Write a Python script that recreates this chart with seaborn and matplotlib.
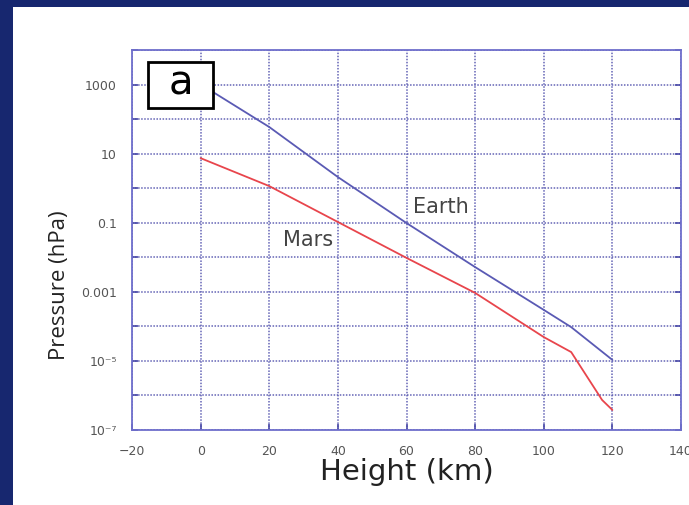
import numpy as np
import pandas as pd
import matplotlib
matplotlib.use("Agg")
import matplotlib.pyplot as plt
from matplotlib import font_manager
from matplotlib.patches import Rectangle
import seaborn as sns

# ---- data ----
earth_height = [0, 20, 40, 60, 80, 100, 108, 120]
earth_pressure = [1013, 59, 2.1, 0.098, 0.0052, 3.0e-4, 9.5e-5, 1.07e-5]
mars_height = [0, 20, 40, 60, 80, 100, 108, 117, 120]
mars_pressure = [7.4, 1.15, 0.105, 0.0096, 9.3e-4, 4.9e-5, 1.8e-5, 7.4e-7, 3.8e-7]

x_ticks = [-20, 0, 20, 40, 60, 80, 100, 120, 140]
x_tick_labels = ["−20", "0", "20", "40", "60", "80", "100", "120", "140"]
y_ticks = [1e-7, 1e-6, 1e-5, 1e-4, 1e-3, 1e-2, 1e-1, 1, 10, 100, 1000, 1e4]
y_tick_labels = ["10⁻⁷", "", "10⁻⁵", "", "0.001", "", "0.1", "", "10", "", "1000", ""]

df = pd.DataFrame({
    "Height": earth_height + mars_height,
    "Pressure": earth_pressure + mars_pressure,
    "Planet": ["Earth"] * len(earth_height) + ["Mars"] * len(mars_height),
})

sns.set_theme(style="white")
plt.rcParams["font.family"] = ["DejaVu Sans"]

names = {f.name for f in font_manager.fontManager.ttflist}
ylab_font = "Liberation Sans Narrow" if "Liberation Sans Narrow" in names else "Open Sans"
ylab_size = 19.5 if ylab_font == "Liberation Sans Narrow" else 16

W, H = 689, 505
fig = plt.figure(figsize=(W / 100, H / 100), dpi=100, facecolor="#17276f")
fig.patches.append(Rectangle((13 / W, 0), 1 - 13 / W, (H - 7) / H,
                             transform=fig.transFigure, facecolor="white",
                             edgecolor="none", zorder=-5))
ax = fig.add_axes([132 / W, 1 - 430 / H, (681 - 132) / W, (430 - 50) / H])
ax.set_zorder(2)
ax.set_facecolor("white")

sns.lineplot(data=df, x="Height", y="Pressure", hue="Planet",
             palette={"Earth": "#5a5ab4", "Mars": "#e8454c"},
             linewidth=1.3, legend=False, ax=ax, sort=False)

ax.set_yscale("log")
ax.set_xlim(-20, 140)
ax.set_ylim(1e-7, 1e4)
ax.set_xticks(x_ticks)
ax.set_xticklabels(x_tick_labels)
ax.set_yticks(y_ticks)
ax.set_yticklabels(y_tick_labels)
ax.minorticks_off()

grid_col = "#5c5cb2"
ax.grid(True, which="major", color=grid_col, linestyle=(0, (1, 1.0)), linewidth=1.1, alpha=0.95)
for s in ax.spines.values():
    s.set_color("#6e6ecb")
    s.set_linewidth(1.3)
ax.tick_params(axis="both", which="major", direction="in", length=4, width=1.2,
               color="#4a4aa8", labelcolor="#555555", labelsize=9, pad=11,
               top=False, right=True, left=True, bottom=True)

ax.set_xlabel("Height (km)", fontsize=21, color="#222222", family="DejaVu Sans")
ax.xaxis.set_label_coords(0.5, -0.075)
ax.set_ylabel("Pressure (hPa)", fontsize=ylab_size, color="#222222", family=ylab_font)
ax.yaxis.set_label_coords(-0.113, 0.38)

ax.text(70.1, 10 ** -0.55, "Earth", fontsize=15, color="#444444", ha="center", va="center")
ax.text(31.3, 10 ** -1.5, "Mars", fontsize=15, color="#444444", ha="center", va="center")

bx0, by0 = (148 - 132) / 549, (430 - 108) / 380
bw, bh = 65 / 549, 46 / 380
ax.add_patch(Rectangle((bx0, by0), bw, bh, transform=ax.transAxes,
                       facecolor="white", edgecolor="black", linewidth=2, zorder=5))
ax.text(bx0 + bw / 2, by0 + bh / 2 + 0.005, "a", transform=ax.transAxes, fontsize=29,
        ha="center", va="center", color="black", zorder=6)

fig.savefig("out.png", dpi=100, facecolor=fig.get_facecolor())
